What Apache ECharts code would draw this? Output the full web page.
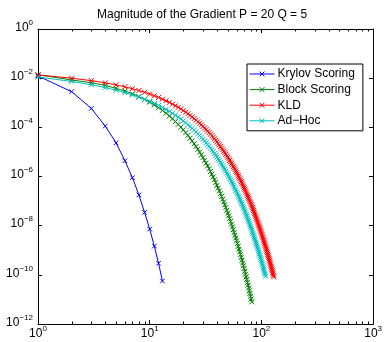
<!DOCTYPE html>
<html><head><meta charset="utf-8">
<script src="https://cdn.jsdelivr.net/npm/echarts@6/dist/echarts.min.js"></script>
<style>html,body{margin:0;padding:0;background:#fff}#c{width:385px;height:342px}</style>
</head><body><div id="c"></div>
<script>
const chartTitle = 'Magnitude of the Gradient P = 20 Q = 5';
const seriesNames = ['Krylov Scoring', 'Block Scoring', 'KLD', 'Ad\u2212Hoc'];
const seriesColors = ['#0000ff', '#008000', '#ff0000', '#00bfbf'];

// magnitude of the gradient per iteration (iteration = index + 1)
const krylov = [1.23e-2, 2.82e-3, 5.89e-4, 1.12e-4, 2.34e-5, 4.37e-6, 8.91e-7, 1.78e-7, 3.47e-8, 7.24e-9, 1.48e-9, 2.95e-10, 5.62e-11];

const block = [
1.38e-2, 8.45e-3, 6.52e-3, 5.04e-3, 3.88e-3, 2.99e-3, 2.31e-3, 1.78e-3, 1.37e-3, 1.06e-3,
8.17e-4, 6.30e-4, 4.85e-4, 3.75e-4, 2.89e-4, 2.23e-4, 1.72e-4, 1.32e-4, 1.02e-4, 7.89e-5,
6.08e-5, 4.69e-5, 3.61e-5, 2.79e-5, 2.15e-5, 1.66e-5, 1.28e-5, 9.86e-6, 7.62e-6, 5.87e-6,
4.53e-6, 3.49e-6, 2.69e-6, 2.08e-6, 1.60e-6, 1.24e-6, 9.53e-7, 7.35e-7, 5.68e-7, 4.38e-7,
3.37e-7, 2.60e-7, 2.00e-7, 1.55e-7, 1.19e-7, 9.20e-8, 7.10e-8, 5.47e-8, 4.23e-8, 3.26e-8,
2.51e-8, 1.94e-8, 1.49e-8, 1.15e-8, 8.89e-9, 6.85e-9, 5.28e-9, 4.07e-9, 3.15e-9, 2.43e-9,
1.87e-9, 1.44e-9, 1.11e-9, 8.59e-10, 6.62e-10, 5.11e-10, 3.94e-10, 3.03e-10, 2.34e-10, 1.81e-10,
1.39e-10, 1.07e-10, 8.28e-11, 6.40e-11, 4.93e-11, 3.80e-11, 2.93e-11, 2.26e-11, 1.75e-11, 1.35e-11,
1.04e-11, 8.00e-12];

const kld = [
1.35e-2, 9.98e-3, 7.91e-3, 6.44e-3, 5.31e-3, 4.44e-3, 3.72e-3, 3.15e-3, 2.66e-3, 2.26e-3,
1.92e-3, 1.64e-3, 1.40e-3, 1.20e-3, 1.03e-3, 8.79e-4, 7.55e-4, 6.50e-4, 5.57e-4, 4.80e-4,
4.13e-4, 3.55e-4, 3.06e-4, 2.64e-4, 2.27e-4, 1.96e-4, 1.69e-4, 1.46e-4, 1.26e-4, 1.09e-4,
9.42e-5, 8.11e-5, 7.01e-5, 6.07e-5, 5.24e-5, 4.53e-5, 3.93e-5, 3.40e-5, 2.93e-5, 2.54e-5,
2.20e-5, 1.90e-5, 1.65e-5, 1.43e-5, 1.23e-5, 1.07e-5, 9.25e-6, 8.02e-6, 6.93e-6, 6.01e-6,
5.21e-6, 4.51e-6, 3.91e-6, 3.39e-6, 2.94e-6, 2.55e-6, 2.21e-6, 1.91e-6, 1.66e-6, 1.44e-6,
1.25e-6, 1.08e-6, 9.38e-7, 8.13e-7, 7.05e-7, 6.11e-7, 5.31e-7, 4.60e-7, 3.99e-7, 3.46e-7,
3.01e-7, 2.60e-7, 2.26e-7, 1.96e-7, 1.70e-7, 1.48e-7, 1.28e-7, 1.11e-7, 9.64e-8, 8.37e-8,
7.26e-8, 6.30e-8, 5.47e-8, 4.75e-8, 4.12e-8, 3.57e-8, 3.10e-8, 2.70e-8, 2.34e-8, 2.03e-8,
1.77e-8, 1.53e-8, 1.33e-8, 1.15e-8, 1.00e-8, 8.69e-9, 7.55e-9, 6.56e-9, 5.69e-9, 4.94e-9,
4.30e-9, 3.72e-9, 3.24e-9, 2.81e-9, 2.44e-9, 2.12e-9, 1.84e-9, 1.60e-9, 1.39e-9, 1.21e-9,
1.05e-9, 9.10e-10, 7.91e-10, 6.87e-10, 5.96e-10, 5.18e-10, 4.50e-10, 3.91e-10, 3.39e-10, 2.95e-10,
2.56e-10, 2.22e-10, 1.93e-10, 1.68e-10, 1.46e-10, 1.27e-10, 1.10e-10, 9.57e-11, 8.30e-11];

const adhoc = [
1.12e-2, 7.35e-3, 5.40e-3, 4.13e-3, 3.24e-3, 2.58e-3, 2.08e-3, 1.69e-3, 1.39e-3, 1.14e-3,
9.38e-4, 7.76e-4, 6.44e-4, 5.36e-4, 4.46e-4, 3.72e-4, 3.11e-4, 2.61e-4, 2.18e-4, 1.83e-4,
1.53e-4, 1.29e-4, 1.09e-4, 9.14e-5, 7.69e-5, 6.49e-5, 5.46e-5, 4.61e-5, 3.90e-5, 3.29e-5,
2.77e-5, 2.34e-5, 1.99e-5, 1.68e-5, 1.42e-5, 1.20e-5, 1.02e-5, 8.61e-6, 7.29e-6, 6.18e-6,
5.24e-6, 4.44e-6, 3.77e-6, 3.19e-6, 2.70e-6, 2.29e-6, 1.95e-6, 1.65e-6, 1.40e-6, 1.19e-6,
1.01e-6, 8.57e-7, 7.29e-7, 6.19e-7, 5.26e-7, 4.47e-7, 3.79e-7, 3.23e-7, 2.74e-7, 2.33e-7,
1.98e-7, 1.68e-7, 1.43e-7, 1.22e-7, 1.04e-7, 8.79e-8, 7.48e-8, 6.37e-8, 5.42e-8, 4.61e-8,
3.92e-8, 3.33e-8, 2.84e-8, 2.42e-8, 2.06e-8, 1.75e-8, 1.49e-8, 1.27e-8, 1.08e-8, 9.18e-9,
7.82e-9, 6.65e-9, 5.68e-9, 4.83e-9, 4.11e-9, 3.50e-9, 2.98e-9, 2.55e-9, 2.17e-9, 1.85e-9,
1.57e-9, 1.34e-9, 1.14e-9, 9.70e-10, 8.26e-10, 7.05e-10, 6.00e-10, 5.12e-10, 4.37e-10, 3.72e-10,
3.16e-10, 2.70e-10, 2.30e-10, 1.96e-10, 1.67e-10, 1.42e-10, 1.21e-10, 1.04e-10, 8.83e-11];

// axis ranges and tick labels (exponents of 10)
const xMin = 1, xMax = 1000;
const yMin = 1e-12, yMax = 1;
const xTickExponents = [0, 1, 2, 3];
const yTickExponents = [0, -2, -4, -6, -8, -10, -12];
const xMinorTicks = [2,3,4,5,6,7,8,9,20,30,40,50,60,70,80,90,200,300,400,500,600,700,800,900];

const FONT = '"Liberation Sans", Arial, Helvetica, sans-serif';
const xMark = 'path://M0,0L10,10M10,0L0,10';

function expLabel(value) {
  const e = Math.round(Math.log10(value));
  return '{b|10}{s|' + String(e).replace('-', '\u2212') + '}';
}
const richLabel = {
  b: { fontSize: 12, lineHeight: 12, fontFamily: FONT, color: '#000', verticalAlign: 'bottom' },
  s: { fontSize: 8, lineHeight: 8, fontFamily: FONT, color: '#000', verticalAlign: 'bottom', padding: [0, 0, 7, 0] }
};

const allData = [krylov, block, kld, adhoc];
const lineSeries = allData.map((arr, k) => ({
  name: seriesNames[k],
  type: 'line',
  xAxisIndex: 0, yAxisIndex: 0,
  data: arr.map((v, i) => [i + 1, v]),
  symbol: xMark,
  symbolSize: k === 0 ? 4.5 : 5,
  showSymbol: true,
  showAllSymbol: true,
  lineStyle: { width: 1, color: seriesColors[k] },
  itemStyle: { color: seriesColors[k], borderColor: seriesColors[k], borderWidth: 1 },
  emphasis: { disabled: true },
  z: 2 + k
}));

const minorTickSeries = {
  type: 'custom',
  name: 'minorTicks',
  xAxisIndex: 0, yAxisIndex: 0,
  silent: true,
  clip: false,
  data: xMinorTicks.map(v => [v, yMin]),
  renderItem: function (params, api) {
    const v = api.value(0);
    const b = api.coord([v, yMin]);
    const t = api.coord([v, yMax]);
    const x = Math.round(b[0]) + 0.5;
    return {
      type: 'group',
      children: [
        { type: 'line', shape: { x1: x, y1: b[1], x2: x, y2: b[1] - 2.5 }, style: { stroke: '#000', lineWidth: 1 } },
        { type: 'line', shape: { x1: x, y1: t[1], x2: x, y2: t[1] + 2.5 }, style: { stroke: '#000', lineWidth: 1 } }
      ]
    };
  },
  z: 10
};

const axisLineStyle = { show: true, lineStyle: { color: '#000', width: 1 } };

const option = {
  animation: false,
  backgroundColor: '#fff',
  textStyle: { fontFamily: FONT },
  title: {
    text: chartTitle,
    left: 97, top: 9, padding: 0,
    textStyle: { fontSize: 12, fontWeight: 'normal', color: '#000', fontFamily: FONT }
  },
  legend: {
    data: seriesNames,
    orient: 'vertical',
    left: 247, top: 64,
    padding: [3, 8, 3, 2],
    itemWidth: 25, itemHeight: 6, itemGap: 1.6,
    backgroundColor: '#fff',
    borderColor: '#000', borderWidth: 1, borderRadius: 0,
    lineStyle: { width: 1 },
    itemStyle: { borderWidth: 1 },
    textStyle: { fontSize: 12, lineHeight: 14, color: '#000', fontFamily: FONT, padding: [0, 0, 0, -2] },
    selectedMode: false
  },
  grid: { left: 38, right: 10, top: 29, bottom: 18, containLabel: false },
  xAxis: [
    {
      type: 'log', logBase: 10, min: xMin, max: xMax, interval: 1,
      position: 'bottom',
      axisLine: axisLineStyle,
      axisTick: { show: true, inside: true, length: 4, lineStyle: { color: '#000' } },
      axisLabel: { show: true, margin: 4, formatter: expLabel, rich: richLabel },
      splitLine: { show: false }, minorTick: { show: false }
    },
    {
      type: 'log', logBase: 10, min: xMin, max: xMax, interval: 1,
      position: 'top',
      axisLine: axisLineStyle,
      axisTick: { show: true, inside: true, length: 4, lineStyle: { color: '#000' } },
      axisLabel: { show: false },
      splitLine: { show: false }
    }
  ],
  yAxis: [
    {
      type: 'log', logBase: 10, min: yMin, max: yMax, interval: 2,
      position: 'left',
      axisLine: axisLineStyle,
      axisTick: { show: true, inside: true, length: 4, lineStyle: { color: '#000' } },
      axisLabel: { show: true, margin: 5, formatter: expLabel, rich: richLabel, padding: [0, 0, 3, 0] },
      splitLine: { show: false }
    },
    {
      type: 'log', logBase: 10, min: yMin, max: yMax, interval: 2,
      position: 'right',
      axisLine: axisLineStyle,
      axisTick: { show: true, inside: true, length: 4, lineStyle: { color: '#000' } },
      axisLabel: { show: false },
      splitLine: { show: false }
    }
  ],
  series: lineSeries.concat([minorTickSeries])
};

const chart = echarts.init(document.getElementById('c'), null, { renderer: 'canvas' });
chart.setOption(option);
</script>
</body></html>
